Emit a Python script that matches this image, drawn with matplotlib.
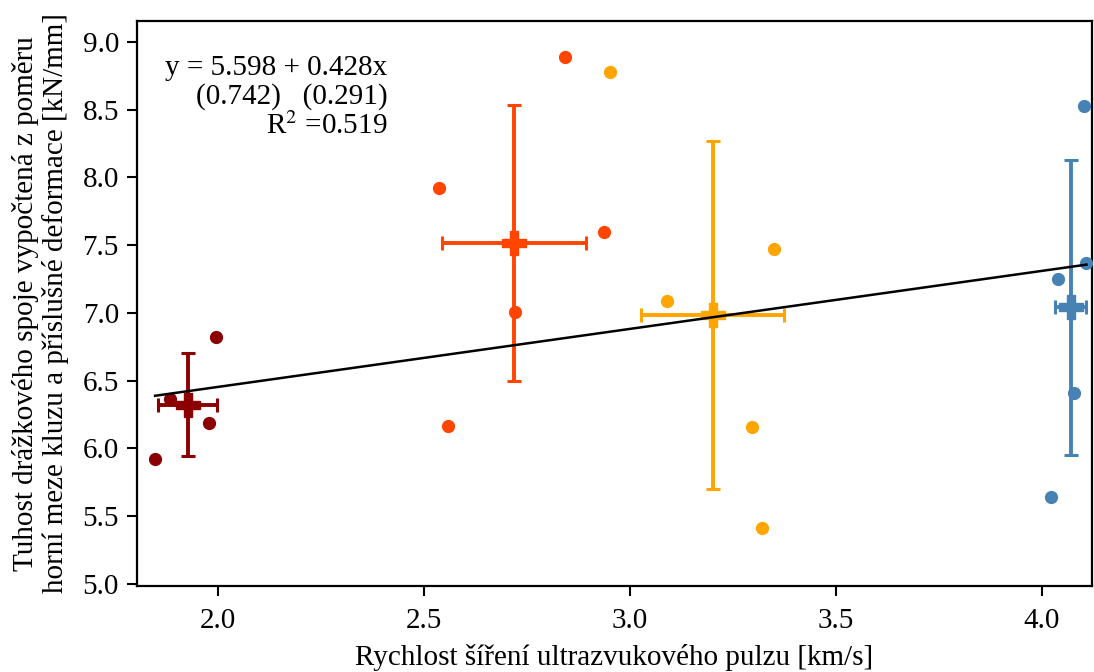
import numpy as np
import matplotlib
matplotlib.use("Agg")
import matplotlib.pyplot as plt

plt.rcParams['font.family'] = ['Liberation Serif', 'DejaVu Serif']
plt.rcParams['mathtext.fontset'] = 'stix'

# Data: ultrasonic velocity [km/s] vs stiffness [kN/mm], four groups
g1_x = [1.847, 1.883, 1.979, 1.994]
g1_y = [5.923, 6.365, 6.186, 6.821]
g2_x = [2.537, 2.558, 2.721, 2.843, 2.937]
g2_y = [7.923, 6.166, 7.005, 8.889, 7.595]
g3_x = [2.951, 3.089, 3.295, 3.320, 3.350]
g3_y = [8.781, 7.089, 6.161, 5.416, 7.470]
g4_x = [4.023, 4.038, 4.078, 4.102, 4.108]
g4_y = [5.640, 7.251, 6.412, 8.528, 7.371]

group_x = [g1_x, g2_x, g3_x, g4_x]
group_y = [g1_y, g2_y, g3_y, g4_y]
colors = ['#8B0000', '#FF4500', '#FFA500', '#4682B4']

intercept = 5.598
slope = 0.428
se_intercept = 0.742
se_slope = 0.291
r2 = 0.519

FS = 21

fig = plt.figure(figsize=(10.94, 6.72), dpi=100)
ax = fig.add_axes([0.1252, 0.128, 0.998 - 0.1252, 0.969 - 0.128])

for xs, ys, c in zip(group_x, group_y, colors):
    xs = np.array(xs); ys = np.array(ys)
    ax.plot(xs, ys, 'o', color=c, ms=8.5, zorder=3)
    ax.errorbar(xs.mean(), ys.mean(), xerr=xs.std(ddof=1), yerr=ys.std(ddof=1),
                fmt='P', color=c, ms=17, capsize=5, elinewidth=2.8,
                capthick=2.2, zorder=2)

all_x = np.concatenate([np.array(v) for v in group_x])
xl = np.array([all_x.min(), all_x.max()])
ax.plot(xl, intercept + slope * xl, color='black', lw=1.8, zorder=4)

ax.text(0.262, 0.94,
        f"y = {intercept:.3f} + {slope:.3f}x\n({se_intercept:.3f})   ({se_slope:.3f})\nR$^2$ ={r2:.3f}",
        transform=ax.transAxes, ha='right', va='top', fontsize=FS,
        linespacing=1.12)

ax.set_xlim(1.803, 4.121)
ax.set_ylim(4.985, 9.155)
ax.set_xticks([2.0, 2.5, 3.0, 3.5, 4.0])
ax.set_yticks([5.0, 5.5, 6.0, 6.5, 7.0, 7.5, 8.0, 8.5, 9.0])
ax.tick_params(labelsize=FS, width=1.5, length=7)
ax.tick_params(axis='x', pad=9)
ax.tick_params(axis='y', pad=6)
for s in ax.spines.values():
    s.set_linewidth(1.6)

ax.set_xlabel("Rychlost šíření ultrazvukového pulzu [km/s]", fontsize=FS, labelpad=7)
ax.set_ylabel("Tuhost drážkového spoje vypočtená z poměru\nhorní meze kluzu a příslušné deformace [kN/mm]",
              fontsize=FS, linespacing=1.1, labelpad=10)

fig.savefig("out.png", dpi=100)
